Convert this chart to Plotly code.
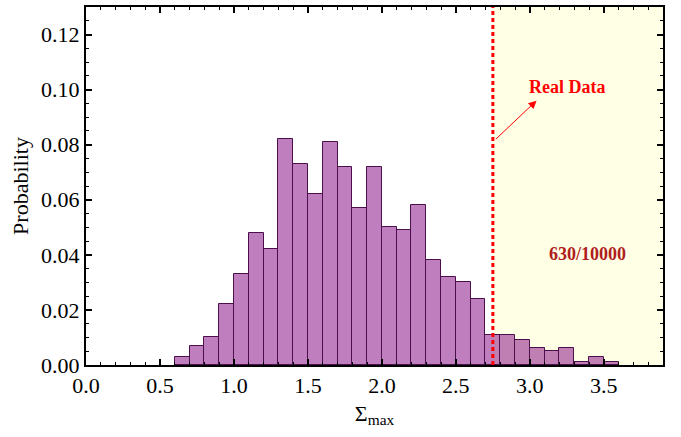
import plotly.graph_objects as go

# Data
bin_centers = [0.65, 0.75, 0.85, 0.95, 1.05, 1.15, 1.25, 1.35, 1.45, 1.55,
               1.65, 1.75, 1.85, 1.95, 2.05, 2.15, 2.25, 2.35, 2.45, 2.55,
               2.65, 2.75, 2.85, 2.95, 3.05, 3.15, 3.25, 3.35, 3.45, 3.55]
probability = [0.003, 0.007, 0.010, 0.022, 0.033, 0.048, 0.042, 0.082, 0.073, 0.062,
               0.081, 0.072, 0.057, 0.072, 0.050, 0.049, 0.058, 0.038, 0.032, 0.030,
               0.024, 0.011, 0.011, 0.009, 0.006, 0.005, 0.006, 0.001, 0.003, 0.001]
bin_width = 0.1
real_value = 2.75
x_max = 3.9
y_max = 0.13
label_real = "Real Data"
label_count = "630/10000"

font_family = "Liberation Serif, Times New Roman, serif"

fig = go.Figure()
fig.add_trace(go.Bar(
    x=bin_centers, y=probability, width=bin_width,
    marker=dict(color="rgba(128,0,128,0.5)",
                line=dict(color="rgb(75,15,75)", width=1)),
    showlegend=False, hoverinfo="x+y",
))

# shaded region right of the real value
fig.add_shape(type="rect", xref="x", yref="paper", x0=real_value, x1=x_max,
              y0=0, y1=1, fillcolor="rgb(255,255,230)", line=dict(width=0),
              layer="below")
# red dashed line
fig.add_shape(type="line", xref="x", yref="paper", x0=real_value, x1=real_value,
              y0=0, y1=1, line=dict(color="red", width=3, dash="4px,3px"))

fig.add_annotation(x=3.045, y=0.096, ax=real_value, ay=0.081, xref="x", yref="y",
                   axref="x", ayref="y", text=" ", showarrow=True,
                   arrowhead=2, arrowsize=1.6, arrowwidth=1, arrowcolor="red")
fig.add_annotation(x=3.25, y=0.1008, xref="x", yref="y", text="<b>%s</b>" % label_real,
                   showarrow=False, font=dict(family=font_family, size=18, color="red"))
fig.add_annotation(x=3.39, y=0.0402, xref="x", yref="y", text="<b>%s</b>" % label_count,
                   showarrow=False, font=dict(family=font_family, size=18, color="#B01E1E"))

axis_common = dict(showline=True, linecolor="black", linewidth=2, mirror="allticks",
                   ticks="inside", tickcolor="black", tickwidth=1.5, ticklen=6,
                   showgrid=False, zeroline=False,
                   tickfont=dict(family=font_family, size=22, color="black"))

fig.update_xaxes(range=[0, x_max], tick0=0, dtick=0.5, tickformat=".1f",
                 minor=dict(ticks="inside", dtick=0.1, ticklen=3, tickcolor="black", tickwidth=1),
                 title=dict(text="Σ<sub>max</sub>", font=dict(family=font_family, size=22, color="black"),
                            standoff=8),
                 **axis_common)
fig.update_yaxes(range=[0, y_max], tick0=0, dtick=0.02, tickformat=".2f",
                 minor=dict(ticks="inside", dtick=0.005, ticklen=3, tickcolor="black", tickwidth=1),
                 title=dict(text="Probability", font=dict(family=font_family, size=22, color="black"),
                            standoff=6),
                 **axis_common)

fig.update_layout(width=681, height=437, margin=dict(l=86, r=18, t=5, b=72),
                  plot_bgcolor="white", paper_bgcolor="white", bargap=0)

fig.write_html("out.html")
